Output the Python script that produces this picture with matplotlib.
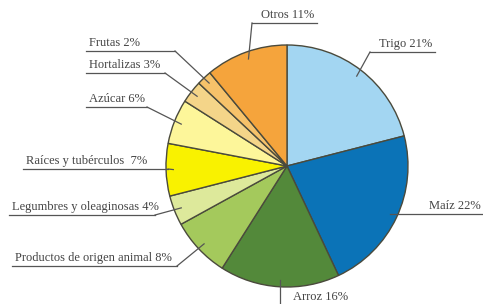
import numpy as np
import matplotlib.pyplot as plt

# datos del gráfico (porcentaje de la ingesta de energía por alimento)
labels = ["Trigo", "Maíz", "Arroz", "Productos de origen animal",
          "Legumbres y oleaginosas", "Raíces y tubérculos ", "Azúcar",
          "Hortalizas", "Frutas", "Otros"]
values = [21, 22, 16, 8, 4, 7, 6, 3, 2, 11]
colors = ["#a3d6f2", "#0b73b7", "#53893a", "#a4c95c", "#dde99b",
          "#f9f200", "#fdf69a", "#f4d589", "#f6c26a", "#f5a43c"]

# posición de las etiquetas (px): subrayado x0, x1, y ; lado del codo
label_pos = {
    "Trigo": (370, 435, 52, "left"),
    "Maíz": (None, 483, 208, "maiz"),
    "Arroz": (282, 304, None, "arroz"),
    "Productos de origen animal": (12, 177, 266, "right"),
    "Legumbres y oleaginosas": (9, 155, 215, "right"),
    "Raíces y tubérculos ": (23, 168, 169, "right"),
    "Azúcar": (86, 147, 107, "right"),
    "Hortalizas": (86, 165, 73, "right"),
    "Frutas": (86, 175, 51, "right"),
    "Otros": (252, 317, 23, "left"),
}

W, H = 483, 304
cx, cy, R = 287, 166, 121
txt_color = "#444444"
line_color = "#555555"

fig = plt.figure(figsize=(W / 100, H / 100), dpi=100)
ax = fig.add_axes([0, 0, 1, 1])

wedges, _ = ax.pie(values, colors=colors, startangle=270, counterclock=True,
                   center=(cx, cy), radius=R, frame=True,
                   wedgeprops=dict(edgecolor="#4a4a3c", linewidth=1.0))
ax.set_xlim(0, W)
ax.set_ylim(H, 0)
ax.set_aspect("equal")
ax.axis("off")

font = dict(family=["Liberation Serif", "DejaVu Serif"], fontsize=9,
            color=txt_color)

total = sum(values)
acc = 0
for lab, v in zip(labels, values):
    mid = (acc + v / 2) / total
    acc += v
    th = np.deg2rad(270 + 360 * mid)
    ax_x = cx + 0.94 * R * np.cos(th)
    ax_y = cy + 0.94 * R * np.sin(th)
    text = f"{lab} {v}%"
    x0, x1, yu, side = label_pos[lab]
    if side == "maiz":
        ax.plot([ax_x, x1], [ax_y, ax_y], color=line_color, lw=0.9)
        ax.text(x1 - 2, ax_y - 2, text, ha="right", va="bottom", **font)
    elif side == "arroz":
        ax.plot([ax_x, ax_x], [ax_y, H], color=line_color, lw=0.9)
        ax.text(ax_x + 13, 297, text, ha="left", va="center", **font)
    else:
        ex = x1 if side == "right" else x0
        ax.plot([x0, x1], [yu, yu], color=line_color, lw=0.9)
        ax.plot([ex, ax_x], [yu, ax_y], color=line_color, lw=0.9)
        if side == "right":
            ax.text(x0 + 3, yu - 2, text, ha="left", va="bottom", **font)
        else:
            ax.text(x1 - 3, yu - 2, text, ha="right", va="bottom", **font)

fig.savefig("out.png", dpi=100)
